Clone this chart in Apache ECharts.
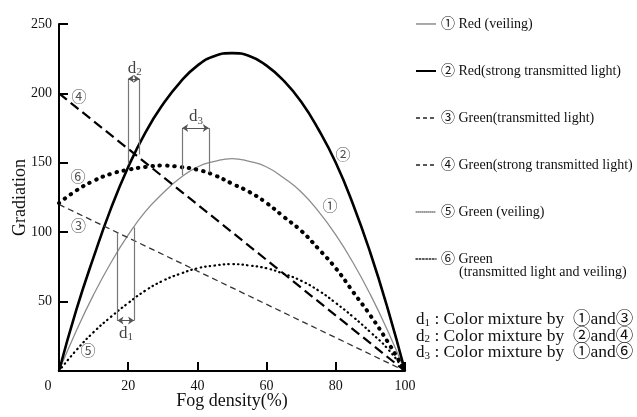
<!DOCTYPE html>
<html>
<head>
<meta charset="utf-8">
<script src="https://cdn.jsdelivr.net/npm/echarts@6/dist/echarts.min.js"></script>
<style>
html,body{margin:0;padding:0;background:#fff}
#main{width:637px;height:417px}
</style>
</head>
<body>
<div id="main"></div>
<script>
// fog density samples (%)
var fogX = [0,5,10,15,20,25,30,35,40,45,50,55,60,65,70,75,80,85,90,95,100];
var redVeiling = [0,29,55,78,98,115,128,139,147,151,153,151,147,139,129,115,98,78,55,29,0];
var redStrong = [0,44,82,117,147,172,192,208,220,227,229,227,220,209,194,174,150,120,85,45,0];
var greenVeiling = [0,15,28,39,49,58,65,70,74,76,77,76,74,70,65,58,49,39,28,16,0];
var greenMixed = [121,130,137,142,145,147,148,147,145,141,135,129,121,111,101,88,74,57,40,21,0];
// straight lines, end points only
var lineX = [0,100];
var greenTransmitted = [120,0];
var greenStrong = [200,0];

var names = ['① Red (veiling)','② Red(strong transmitted light)','③ Green(transmitted light)',
  '④ Green(strong transmitted light)','⑤ Green (veiling)','⑥ Green'];

// curve tags [x, y, text]
var tags = [[5.8,197,'④'],[5.5,139,'⑥'],[5.6,104,'③'],[8.4,14,'⑤'],[82.1,155,'②'],[78.3,118,'①'],
  [19.4,27,'{d|d}{s|1}'],[21.9,218,'{d|d}{s|2}'],[39.6,183,'{d|d}{s|3}']];
// d brackets: [xLeft, yLeftTop, yLeftBottom, xRight, yRightTop, yRightBottom, yArrow]
var brackets = [
  [16.9,99.7,36.3, 21.7,103.5,36.3, 36.3],
  [19.95,210.5,149, 23.3,210.5,156, 210.5],
  [35.6,175,141, 43.3,175,143, 175]
];

function pairs(xa, ya){
  return ya.map(function(v,i){ return [xa[i], v]; });
}

var serif = "'Liberation Serif','Noto Sans CJK JP',serif";
var chart = echarts.init(document.getElementById('main'));

var vLines = [], arrows = [];
brackets.forEach(function(b){
  vLines.push([{coord:[b[0],b[1]]},{coord:[b[0],b[2]]}]);
  vLines.push([{coord:[b[3],b[4]]},{coord:[b[3],b[5]]}]);
  arrows.push([{coord:[b[0],b[6]]},{coord:[b[3],b[6]]}]);
});

var dRich = {
  d:{font:'17px '+serif,fill:'#111'},
  s:{font:'11px '+serif,fill:'#111',padding:[6,0,0,0]},
  t:{font:'17.5px '+serif,fill:'#111'}
};

var option = {
  backgroundColor:'#fff',
  animation:false,
  textStyle:{fontFamily:serif},
  grid:{left:59,right:232,top:24,bottom:46,outerBoundsMode:'none',containLabel:false},
  xAxis:{
    type:'value',min:0,max:100,interval:20,
    name:'Fog density(%)',nameLocation:'middle',nameGap:21,nameMoveOverlap:false,
    nameTextStyle:{fontFamily:serif,fontSize:18,color:'#111'},
    axisLine:{lineStyle:{color:'#000',width:2}},
    axisTick:{inside:true,length:9,lineStyle:{color:'#000',width:2}},
    splitLine:{show:false},
    axisLabel:{color:'#111',fontFamily:serif,fontSize:14,margin:8,
      formatter:function(v){ return v===0 ? '{z|0}' : v; },
      rich:{z:{fontFamily:serif,fontSize:14,color:'#111',padding:[0,22,0,0]}}}
  },
  yAxis:{
    type:'value',min:0,max:250,interval:50,
    name:'Gradiation',nameLocation:'middle',nameGap:30,nameRotate:90,nameMoveOverlap:false,
    nameTextStyle:{fontFamily:serif,fontSize:18,color:'#111'},
    axisLine:{show:true,lineStyle:{color:'#000',width:2}},
    axisTick:{show:true,inside:true,length:9,lineStyle:{color:'#000',width:2}},
    splitLine:{show:false},
    axisLabel:{color:'#111',fontFamily:serif,fontSize:14,margin:7,showMinLabel:false,
      formatter:function(v){ return v===0 ? '' : v; }}
  },
  legend:{
    orient:'vertical',left:410,top:12,itemGap:33,itemWidth:20,itemHeight:12,
    itemStyle:{opacity:0},
    textStyle:{fontFamily:serif,fontSize:14,color:'#111'},
    data:[
      {name:names[0],lineStyle:{color:'#555',width:1,type:'solid'}},
      {name:names[1],lineStyle:{color:'#000',width:2,type:'solid'}},
      {name:names[2],lineStyle:{color:'#222',width:1.4,type:[4,3]}},
      {name:names[3],lineStyle:{color:'#222',width:1.4,type:[4,3]}},
      {name:names[4],lineStyle:{color:'#333',width:1,type:[1,1]}},
      {name:names[5],lineStyle:{color:'#222',width:1.5,type:[1.5,1.8]}}
    ]
  },
  series:[
    {name:names[0],type:'line',smooth:true,symbol:'none',data:pairs(fogX,redVeiling),
      lineStyle:{color:'#8c8c8c',width:1.3},itemStyle:{color:'#8c8c8c'}},
    {name:names[1],type:'line',smooth:true,symbol:'none',data:pairs(fogX,redStrong),
      lineStyle:{color:'#000',width:2.6},itemStyle:{color:'#000'}},
    {name:names[2],type:'line',symbol:'none',data:pairs(lineX,greenTransmitted),
      lineStyle:{color:'#333',width:1.3,type:[6,4]},itemStyle:{color:'#333'}},
    {name:names[3],type:'line',symbol:'none',data:pairs(lineX,greenStrong),
      lineStyle:{color:'#000',width:2.2,type:[10,5]},itemStyle:{color:'#000'}},
    {name:names[4],type:'line',smooth:true,symbol:'none',data:pairs(fogX,greenVeiling),
      lineStyle:{color:'#000',width:2.2,type:[0.5,4.2],cap:'round'},itemStyle:{color:'#000'}},
    {name:names[5],type:'line',smooth:true,symbol:'none',data:pairs(fogX,greenMixed),
      lineStyle:{color:'#000',width:4,type:[0.5,6.8],cap:'round'},itemStyle:{color:'#000'}},
    {type:'line',data:[],symbol:'none',silent:true,
      markLine:{silent:true,symbol:'none',animation:false,
        lineStyle:{color:'#777',width:1.2,type:'solid'},label:{show:false},data:vLines}},
    {type:'line',data:[],symbol:'none',silent:true,
      markLine:{silent:true,symbol:['arrow','arrow'],symbolSize:[6,6],animation:false,
        lineStyle:{color:'#555',width:1,type:'solid'},label:{show:false},data:arrows}},
    {type:'scatter',symbolSize:0,silent:true,data:tags,
      label:{show:true,position:'inside',color:'#222',fontFamily:serif,fontSize:15,
        formatter:function(p){ return p.data[2]; },
        rich:{d:{fontFamily:serif,fontSize:17,color:'#111'},
              s:{fontFamily:serif,fontSize:11,color:'#111',padding:[8,0,0,0]}}}}
  ],
  graphic:[
    {type:'text',left:459,top:265,style:{text:'(transmitted light and veiling)',
      font:'14px '+serif,fill:'#111'}},
    {type:'group',left:416,top:311,children:[
      {type:'text',x:0,y:0,style:{text:'{d|d}{s|1}{t| : Color mixture by  ①and③}',rich:dRich}},
      {type:'text',x:0,y:16.5,style:{text:'{d|d}{s|2}{t| : Color mixture by  ②and④}',rich:dRich}},
      {type:'text',x:0,y:33,style:{text:'{d|d}{s|3}{t| : Color mixture by  ①and⑥}',rich:dRich}}
    ]}
  ]
};
chart.setOption(option);
</script>
</body>
</html>
